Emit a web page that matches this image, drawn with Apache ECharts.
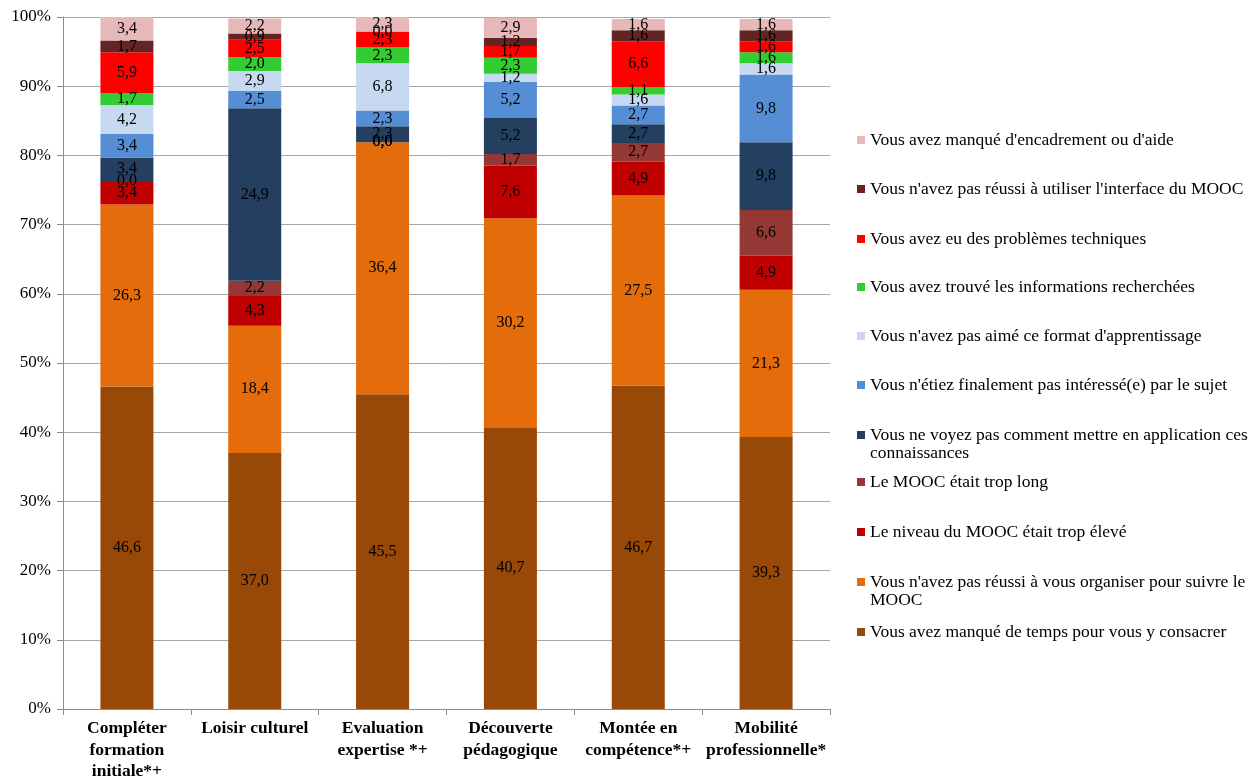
<!DOCTYPE html>
<html>
<head>
<meta charset="utf-8">
<script src="https://cdn.jsdelivr.net/npm/echarts@6/dist/echarts.min.js"></script>
<style>html,body{margin:0;padding:0;background:#fff}#c{width:1258px;height:776px}</style>
</head>
<body>
<div id="c"></div>
<script>
const categories = ["Compléter\nformation\ninitiale*+", "Loisir culturel", "Evaluation\nexpertise *+", "Découverte\npédagogique", "Montée en\ncompétence*+", "Mobilité\nprofessionnelle*"];
const yTicks = [0, 10, 20, 30, 40, 50, 60, 70, 80, 90, 100];

const seriesNames = [
  "Vous avez manqué de temps pour vous y consacrer",
  "Vous n'avez pas réussi à vous organiser pour suivre le MOOC",
  "Le niveau du MOOC était trop élevé",
  "Le MOOC était trop long",
  "Vous ne voyez pas comment mettre en application ces connaissances",
  "Vous n'étiez finalement pas intéressé(e) par le sujet",
  "Vous n'avez pas aimé ce format d'apprentissage",
  "Vous avez trouvé les informations recherchées",
  "Vous avez eu des problèmes techniques",
  "Vous n'avez pas réussi à utiliser l'interface du MOOC",
  "Vous avez manqué d'encadrement ou d'aide"
];
const legendLabels = [
  "Vous avez manqué de temps pour vous y consacrer",
  "Vous n'avez pas réussi à vous organiser pour suivre le\nMOOC",
  "Le niveau du MOOC était trop élevé",
  "Le MOOC était trop long",
  "Vous ne voyez pas comment mettre en application ces\nconnaissances",
  "Vous n'étiez finalement pas intéressé(e) par le sujet",
  "Vous n'avez pas aimé ce format d'apprentissage",
  "Vous avez trouvé les informations recherchées",
  "Vous avez eu des problèmes techniques",
  "Vous n'avez pas réussi à utiliser l'interface du MOOC",
  "Vous avez manqué d'encadrement ou d'aide"
];

const manqueTemps   = [46.6, 37.0, 45.5, 40.7, 46.7, 39.3];
const organiser     = [26.3, 18.4, 36.4, 30.2, 27.5, 21.3];
const niveauEleve   = [3.4, 4.3, 0.0, 7.6, 4.9, 4.9];
const tropLong      = [0.0, 2.2, 0.0, 1.7, 2.7, 6.6];
const application   = [3.4, 24.9, 2.3, 5.2, 2.7, 9.8];
const pasInteresse  = [3.4, 2.5, 2.3, 5.2, 2.7, 9.8];
const pasAimeFormat = [4.2, 2.9, 6.8, 1.2, 1.6, 1.6];
const infoTrouvees  = [1.7, 2.0, 2.3, 2.3, 1.1, 1.6];
const problemesTech = [5.9, 2.5, 2.3, 1.7, 6.6, 1.6];
const interfaceMOOC = [1.7, 0.9, 0.0, 1.2, 1.6, 1.6];
const encadrement   = [3.4, 2.2, 2.3, 2.9, 1.6, 1.6];

const seriesValues = [manqueTemps, organiser, niveauEleve, tropLong, application, pasInteresse, pasAimeFormat, infoTrouvees, problemesTech, interfaceMOOC, encadrement];
const colors = ["#984807", "#E46C0A", "#C00000", "#953735", "#243F60", "#558ED5", "#C6D9F1", "#33CC33", "#FF0000", "#632523", "#E6B9B8"];

const FONT = "Liberation Serif";
const chart = echarts.init(document.getElementById('c'));

const series = seriesNames.map((n, i) => ({
  name: n,
  type: 'bar',
  stack: 'total',
  barWidth: 53,
  data: seriesValues[i],
  itemStyle: { color: colors[i] },
  label: {
    show: true,
    position: 'inside',
    color: '#000',
    fontFamily: FONT,
    fontSize: 16,
    formatter: p => p.value.toFixed(1).replace('.', ',')
  }
}));

// legend: icon centers (top to bottom order = reversed series)
const legendCenters = [632, 582, 532, 482, 435, 385, 336, 287, 239, 189, 140];
const LH = 18;
const legends = seriesNames.map((n, i) => {
  const twoLines = legendLabels[i].indexOf('\n') >= 0;
  return {
    orient: 'vertical',
    left: 857,
    top: twoLines ? legendCenters[i] - 1.5 * LH : legendCenters[i] - LH / 2,
    padding: 0,
    itemWidth: 8,
    itemHeight: 8,
    itemGap: 0,
    selectedMode: false,
    icon: 'rect',
    data: [{ name: n, itemStyle: { color: colors[i] } }],
    formatter: () => twoLines ? ' \n' + legendLabels[i] : legendLabels[i],
    textStyle: {
      fontFamily: FONT,
      fontSize: 17.5,
      color: '#000',
      lineHeight: LH
    }
  };
});

chart.setOption({
  animation: false,
  color: colors,
  grid: { left: 63, right: 428, top: 17, bottom: 67, outerBoundsMode: 'none', containLabel: false },
  legend: legends,
  xAxis: {
    type: 'category',
    data: categories,
    axisLine: { lineStyle: { color: '#8c8c8c', width: 1 } },
    axisTick: { show: true, length: 6, lineStyle: { color: '#8c8c8c' } },
    axisLabel: {
      interval: 0,
      margin: 9,
      fontFamily: FONT,
      fontWeight: 'bold',
      fontSize: 17.5,
      lineHeight: 21.5,
      color: '#000'
    }
  },
  yAxis: {
    type: 'value',
    min: yTicks[0],
    max: yTicks[yTicks.length - 1],
    interval: 10,
    axisLine: { show: true, lineStyle: { color: '#8c8c8c' } },
    axisTick: { show: true, length: 6, lineStyle: { color: '#8c8c8c' } },
    splitLine: { lineStyle: { color: '#a6a6a6' } },
    axisLabel: {
      margin: 12,
      fontFamily: FONT,
      fontSize: 17,
      color: '#000',
      formatter: '{value}%'
    }
  },
  series: series
});
</script>
</body>
</html>
